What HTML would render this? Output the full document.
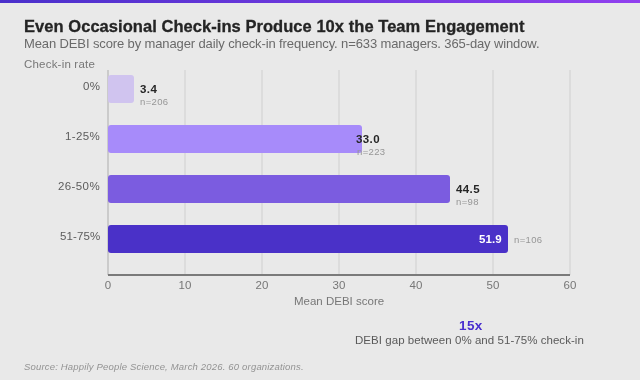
<!DOCTYPE html>
<html><head><meta charset="utf-8">
<style>
html,body{margin:0;padding:0;}
body{width:640px;height:380px;overflow:hidden;background:#e9e9e9;position:relative;font-family:"Liberation Sans",sans-serif;}
.abs{position:absolute;white-space:nowrap;will-change:transform;}
#topbar{position:absolute;left:0;top:0;width:640px;height:3px;background:linear-gradient(90deg,#4a30cb,#9140ef);}
#title{left:24px;top:16px;font-size:16.5px;font-weight:700;color:#242424;line-height:20px;letter-spacing:0.05px;-webkit-text-stroke:0.3px #242424;}
#sub{left:24px;top:36px;font-size:13px;color:#6a6a6a;line-height:16px;letter-spacing:-0.12px;}
#ylab{left:24px;top:58px;font-size:11.5px;color:#777;line-height:13px;letter-spacing:0.2px;}
.grid{position:absolute;top:70px;height:205px;width:2px;background:#dcdcdc;}
#yaxis{position:absolute;left:107px;top:70px;width:2px;height:205px;background:#cbcbcb;}
#xaxis{position:absolute;left:108px;top:274px;width:462px;height:2px;background:#7a7a7a;}
.bar{position:absolute;left:108px;height:28px;border-radius:3px;}
.cat{position:absolute;right:539.6px;font-size:11.5px;color:#5c5c5c;line-height:13px;text-align:right;letter-spacing:0.4px;}
.val{position:absolute;font-size:11.5px;font-weight:700;color:#262626;line-height:13px;letter-spacing:0.4px;}
.n{position:absolute;font-size:9.5px;color:#969696;line-height:11px;letter-spacing:0.35px;}
.tick{position:absolute;top:279px;font-size:11.5px;color:#777;line-height:13px;width:40px;text-align:center;will-change:transform;}
</style></head><body>
<div id="topbar"></div>
<div id="title" class="abs">Even Occasional Check-ins Produce 10x the Team Engagement</div>
<div id="sub" class="abs">Mean DEBI score by manager daily check-in frequency. n=633 managers. 365-day window.</div>
<div id="ylab" class="abs">Check-in rate</div>

<div class="grid" style="left:184px"></div>
<div class="grid" style="left:261px"></div>
<div class="grid" style="left:338px"></div>
<div class="grid" style="left:415px"></div>
<div class="grid" style="left:492px"></div>
<div class="grid" style="left:569px"></div>
<div id="yaxis"></div>
<div id="xaxis"></div>

<div class="bar" style="top:75px;width:26px;background:#d0c4ef"></div>
<div class="bar" style="top:125px;width:254px;background:#a78bfa"></div>
<div class="bar" style="top:175px;width:342px;background:#7b5ce0"></div>
<div class="bar" style="top:225px;width:400px;background:#4a31c8"></div>

<div class="cat abs" style="top:80px">0%</div>
<div class="cat abs" style="top:130px">1-25%</div>
<div class="cat abs" style="top:180px">26-50%</div>
<div class="cat abs" style="top:230px;letter-spacing:0.1px;right:539.9px">51-75%</div>

<div class="val abs" style="left:140.4px;top:83px">3.4</div>
<div class="n abs" style="left:140px;top:96px">n=206</div>
<div class="val abs" style="left:356.3px;top:133px">33.0</div>
<div class="n abs" style="left:356.5px;top:146px">n=223</div>
<div class="val abs" style="left:456px;top:183px">44.5</div>
<div class="n abs" style="left:456px;top:196px">n=98</div>
<div class="val abs" style="left:478.9px;top:233px;color:#fff;letter-spacing:0.1px">51.9</div>
<div class="n abs" style="left:514px;top:234px">n=106</div>

<div class="tick" style="left:88px">0</div>
<div class="tick" style="left:165px">10</div>
<div class="tick" style="left:242px">20</div>
<div class="tick" style="left:319px">30</div>
<div class="tick" style="left:396px">40</div>
<div class="tick" style="left:473px">50</div>
<div class="tick" style="left:550px">60</div>

<div class="abs" style="left:294px;top:295px;font-size:11.5px;color:#777;line-height:13px">Mean DEBI score</div>

<div class="abs" style="left:459px;top:318px;font-size:13.5px;font-weight:700;color:#4a2fcf;line-height:15px;letter-spacing:0.4px">15x</div>
<div class="abs" style="left:354.5px;top:334px;font-size:11.5px;color:#5a5a5a;line-height:13px;letter-spacing:0.05px">DEBI gap between 0% and 51-75% check-in</div>

<div class="abs" style="left:24px;top:361px;font-size:9.5px;font-style:italic;color:#939393;line-height:11px;letter-spacing:0.18px">Source: Happily People Science, March 2026. 60 organizations.</div>
</body></html>
